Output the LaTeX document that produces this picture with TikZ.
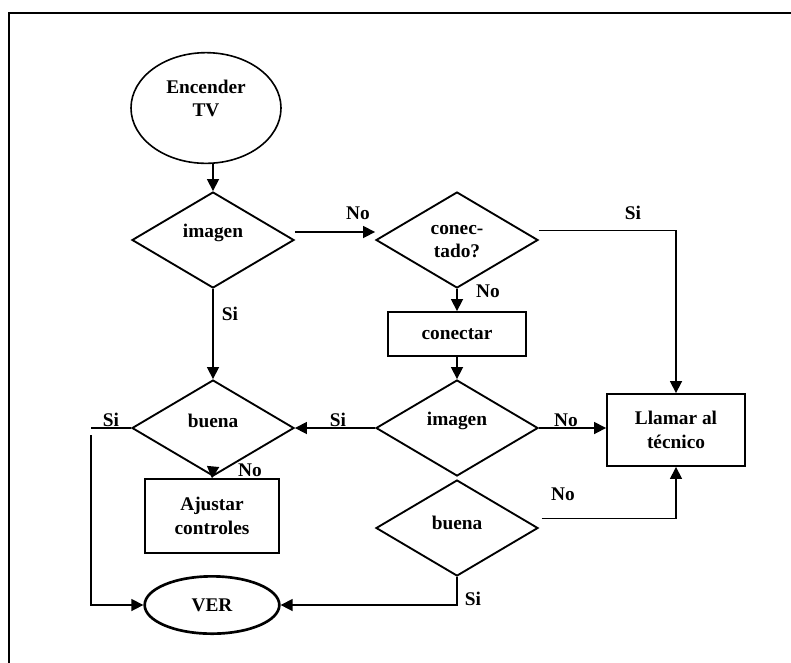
\documentclass[tikz,border=0pt]{standalone}
\usepackage{fontspec}
\setmainfont{Liberation Serif}
\usetikzlibrary{shapes.geometric,arrows.meta}

\begin{document}
\begin{tikzpicture}[x=0.75pt,y=-0.75pt,
  every node/.style={font=\bfseries\fontsize{14.5}{17.5}\selectfont, align=center},
  line/.style={line width=1.2pt},
  arr/.style={line width=1.2pt, -{Triangle[length=9pt,width=9pt]}},
  dia/.style={diamond, draw, line width=1.4pt, aspect=1.7, inner sep=0pt,
              minimum width=121.5pt, minimum height=72pt},
  box/.style={rectangle, draw, line width=1.4pt, inner sep=2pt},
  lbl/.style={inner sep=0pt}
]
\useasboundingbox (0,0) rectangle (791,662);
% page frame (only the left and top sides fall inside the page)
\begin{scope}
  \clip (0,0) rectangle (791,662);
  \draw[line width=1.6pt] (9,700) -- (9,13) -- (830,13);
\end{scope}

% blocks
\node[ellipse, draw, line width=1.2pt, minimum width=112.5pt, minimum height=83pt,
      inner sep=0pt, label={[yshift=7pt]center:Encender\\TV}] (enc) at (206,108) {};
\node[dia, label={[yshift=5pt]center:imagen}] (im1) at (213,240) {};
\node[dia, label={[yshift=-1pt]center:conec-\\tado?}] (con) at (457,240) {};
\node[box, minimum width=103.5pt, minimum height=33pt] (cnt) at (457,334) {conectar};
\node[dia, label={[yshift=5pt]center:imagen}] (im2) at (457,428) {};
\node[box, minimum width=103.5pt, minimum height=54pt] (llam) at (676,430) {Llamar al\\técnico};
\node[dia, label={[yshift=5pt]center:buena}] (b1) at (213,428) {};
\node[box, minimum width=101pt, minimum height=55pt] (aj) at (212,516) {Ajustar\\controles};
\node[dia, label={[yshift=4pt]center:buena}] (b2) at (457,528) {};
\node[ellipse, draw, line width=2pt, minimum width=101pt, minimum height=43pt,
      inner sep=0pt] (ver) at (212,605) {VER};

% bends of the left return line
\coordinate (sL) at (91,428);
\coordinate (sL2) at (91,435);

% connectors
\draw[arr] (im1.north |- enc.south) -- (im1.north);
\draw[arr] ([yshift=6pt]im1.east) -- ([yshift=6pt]con.west);
\draw[arr] ([yshift=7pt]con.east) -| (llam.north);
\draw[arr] (con.south) -- (cnt.north);
\draw[arr] (cnt.south) -- (im2.north);
\draw[arr] (im2.east) -- (llam.west |- im2.east);
\draw[arr] (im2.west) -- (b1.east);
\draw[arr] (im1.south) -- (b1.north);
\draw[arr] ([yshift=7pt]b1.south) -- (aj.north);
\draw[line] (b1.west) -- (sL);
\draw[arr] (sL2) |- (ver.west);
\draw[arr] (b2.south) |- (ver.east);
\draw[arr] ([xshift=2pt,yshift=7pt]b2.east) -| (llam.south);

% branch labels
\node[lbl] (t1) at (358,213) {No};
\node[lbl] (t2) at (633,213) {Si};
\node[lbl] (t3) at (488,291) {No};
\node[lbl] (t4) at (230,314) {Si};
\node[lbl] (t5) at (338,420) {Si};
\node[lbl] (t6) at (566,420) {No};
\node[lbl] (t7) at (111,420) {Si};
\node[lbl] (t8) at (250,470) {No};
\node[lbl] (t9) at (563,494) {No};
\node[lbl] (t10) at (473,599) {Si};
\end{tikzpicture}
\end{document}
